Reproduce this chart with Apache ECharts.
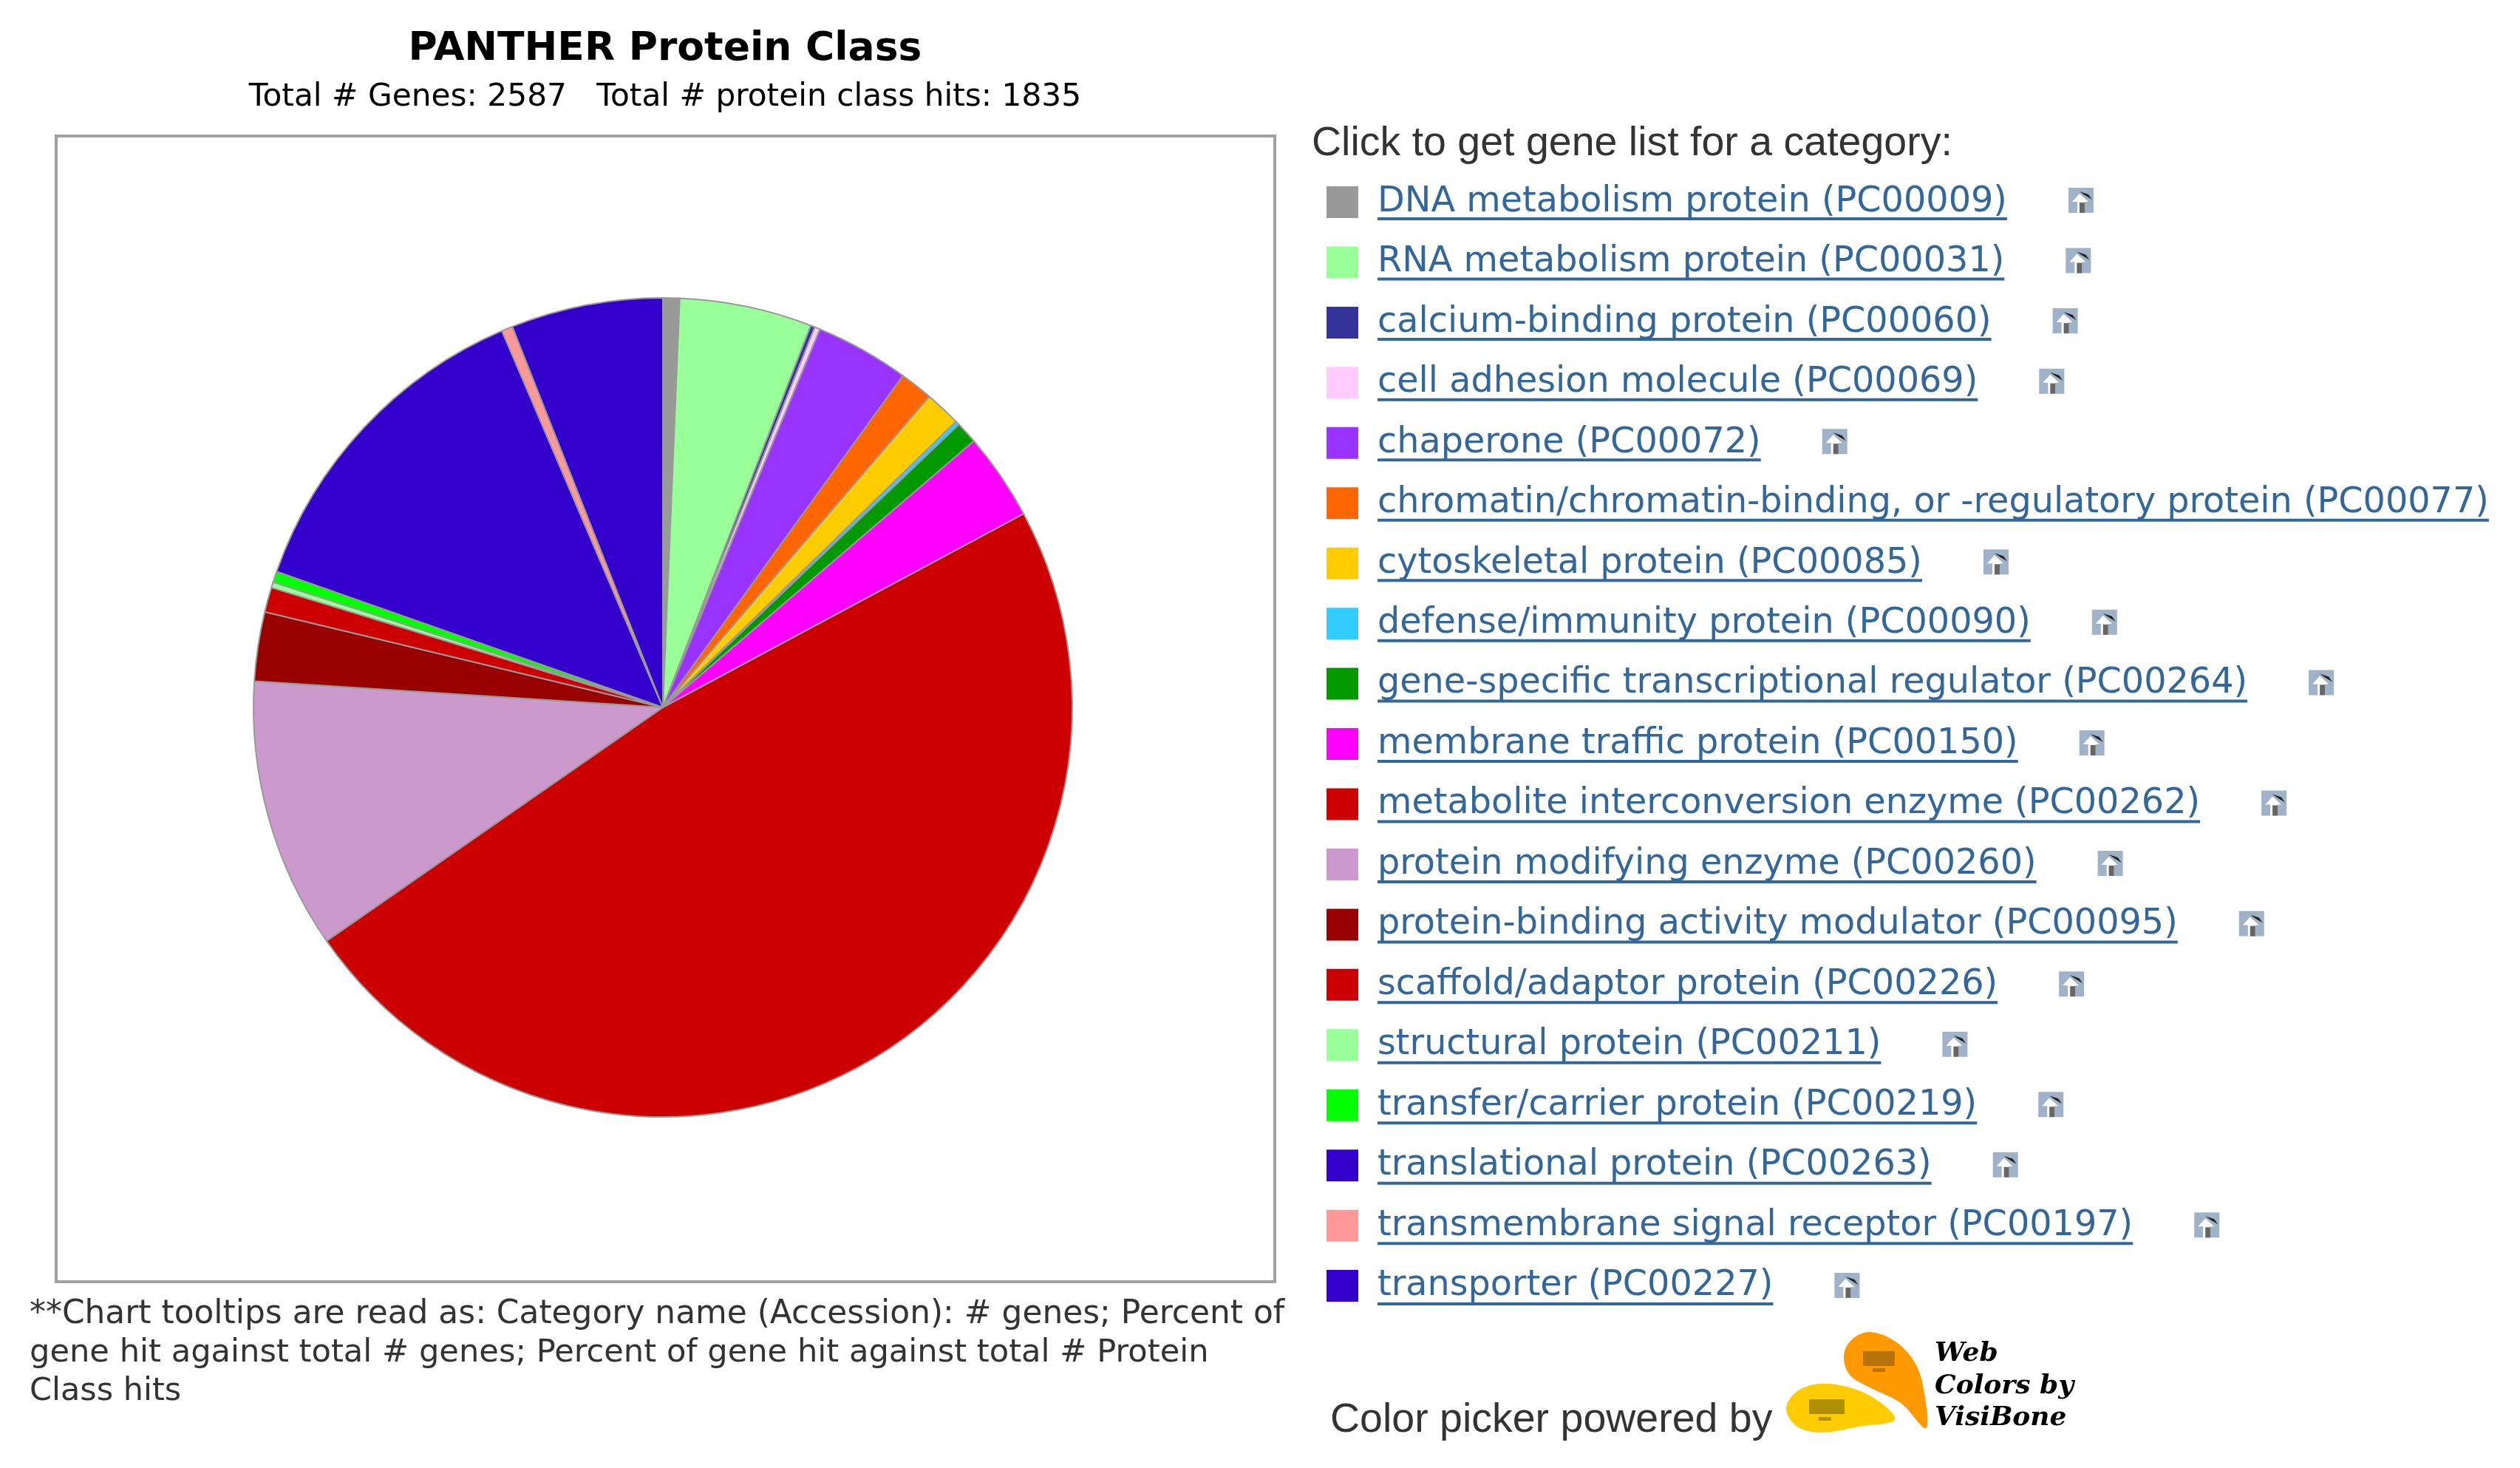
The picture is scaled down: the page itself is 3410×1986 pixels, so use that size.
<!DOCTYPE html>
<html>
<head>
<meta charset="utf-8">
<title>PANTHER Protein Class</title>
<style>
  html, body { margin: 0; padding: 0; background: #fff; }
  #main { width: 3410px; height: 1986px; }
</style>
<script src="https://cdn.jsdelivr.net/npm/echarts@6/dist/echarts.min.js"></script>
</head>
<body>
<div id="main"></div>
<script>
  var categories = [
    'DNA metabolism protein (PC00009)',
    'RNA metabolism protein (PC00031)',
    'calcium-binding protein (PC00060)',
    'cell adhesion molecule (PC00069)',
    'chaperone (PC00072)',
    'chromatin/chromatin-binding, or -regulatory protein (PC00077)',
    'cytoskeletal protein (PC00085)',
    'defense/immunity protein (PC00090)',
    'gene-specific transcriptional regulator (PC00264)',
    'membrane traffic protein (PC00150)',
    'metabolite interconversion enzyme (PC00262)',
    'protein modifying enzyme (PC00260)',
    'protein-binding activity modulator (PC00095)',
    'scaffold/adaptor protein (PC00226)',
    'structural protein (PC00211)',
    'transfer/carrier protein (PC00219)',
    'translational protein (PC00263)',
    'transmembrane signal receptor (PC00197)',
    'transporter (PC00227)'
  ]
  var geneCounts = [12, 96, 3, 4, 68, 24, 26, 3, 16, 63, 884, 196, 50, 18, 4, 8, 242, 8, 110]
  var sliceColors = ['#999999', '#99ff99', '#333399', '#ffccff', '#9933ff', '#ff6600', '#ffcc00', '#33ccff', '#009900',
    '#ff00ff', '#cc0000', '#cc99cc', '#990000', '#cc0000', '#99ff99', '#00ff00', '#3300cc', '#ff9999', '#3300cc']
  var footnoteLines = [
    '**Chart tooltips are read as: Category name (Accession): # genes; Percent of',
    'gene hit against total # genes; Percent of gene hit against total # Protein',
    'Class hits'
  ]
  var footnoteSizes = [43.9, 43.2, 43]
  var logoLines = ['Web', 'Colors by', 'VisiBone']

  var legendFont = '47.7px "DejaVu Sans"'
  var rowTop = 250
  var rowStep = 81.55
  var textX = 1864

  // the legend draws swatch and label, underline and link icon are added by hand
  var ctx = document.createElement('canvas').getContext('2d')
  ctx.font = legendFont

  var graphics = [
    { type: 'rect', shape: { x: 76, y: 184, width: 1649, height: 1550 }, style: { fill: 'none', stroke: '#a0a0a0', lineWidth: 4 }, z: -1 },
    { type: 'text', style: { text: 'Click to get gene list for a category:', x: 1775, y: 195, font: '55.5px "Liberation Sans"', fill: '#333', textVerticalAlign: 'middle' } },
    { type: 'text', style: { text: 'Color picker powered by', x: 1800, y: 1922, font: '55.5px "Liberation Sans"', fill: '#333', textVerticalAlign: 'middle' } },
    // VisiBone logo
    { type: 'polygon', shape: { smooth: 0.35, points: [[2606, 1932], [2572, 1898], [2530, 1877], [2503, 1860], [2495, 1835], [2505, 1813], [2530, 1802], [2565, 1815], [2592, 1845], [2604, 1885]] }, style: { fill: '#ff9900' } },
    { type: 'polygon', shape: { smooth: 0.35, points: [[2564, 1920], [2530, 1888], [2475, 1872], [2435, 1880], [2417, 1905], [2432, 1930], [2465, 1938], [2515, 1930]] }, style: { fill: '#ffcc00' } },
    { type: 'rect', shape: { x: 2521, y: 1828, width: 43, height: 20 }, style: { fill: '#b8720a' } },
    { type: 'rect', shape: { x: 2534, y: 1851, width: 17, height: 5 }, style: { fill: '#b8720a' } },
    { type: 'rect', shape: { x: 2448, y: 1893, width: 48, height: 20 }, style: { fill: '#b09000' } },
    { type: 'rect', shape: { x: 2461, y: 1917, width: 17, height: 5 }, style: { fill: '#b09000' } }
  ]

  footnoteLines.forEach(function(line, i) {
    graphics.push({ type: 'text', style: { text: line, x: 40, y: 1779 + i * 52, font: footnoteSizes[i] + 'px "DejaVu Sans"', fill: '#333', textVerticalAlign: 'middle' } })
  })
  logoLines.forEach(function(line, i) {
    graphics.push({ type: 'text', style: { text: line, x: 2618, y: 1832 + i * 43.5, font: 'italic bold 36px "DejaVu Serif"', fill: '#000', textVerticalAlign: 'middle' } })
  })
  categories.forEach(function(name, i) {
    var w = ctx.measureText(name).width
    var y = rowTop + i * rowStep
    graphics.push({ type: 'rect', shape: { x: textX, y: y + 44, width: w, height: 4 }, style: { fill: '#336699' } })
    // little link icon after the label
    var ix = textX + w + 83
    graphics.push({ type: 'rect', shape: { x: ix, y: y + 4, width: 34, height: 34 }, style: { fill: '#9fb2c8' } })
    graphics.push({ type: 'polygon', shape: { points: [[ix + 15, y + 9], [ix + 27, y + 13], [ix + 32, y + 20], [ix + 22, y + 14]] }, style: { fill: '#222' } })
    graphics.push({ type: 'polygon', shape: { points: [[ix + 15, y + 12], [ix + 27, y + 23], [ix + 22, y + 23], [ix + 22, y + 38], [ix + 12, y + 38], [ix + 12, y + 23], [ix + 5, y + 23]] }, style: { fill: '#fff' } })
    graphics.push({ type: 'rect', shape: { x: ix + 15, y: y + 24, width: 7, height: 14 }, style: { fill: '#666' } })
  })

  var chart = echarts.init(document.getElementById('main'))
  chart.setOption({
    animation: false,
    title: {
      text: 'PANTHER Protein Class',
      subtext: 'Total # Genes: 2587   Total # protein class hits: 1835',
      left: 895,
      top: 35,
      textAlign: 'center',
      itemGap: 16,
      textStyle: { fontFamily: 'DejaVu Sans', fontWeight: 'bold', fontSize: 53.5, color: '#000', lineHeight: 54 },
      subtextStyle: { fontFamily: 'DejaVu Sans', fontSize: 42.3, color: '#000', lineHeight: 44 }
    },
    legend: {
      orient: 'vertical',
      left: 1795,
      top: rowTop - 4,
      padding: 0,
      icon: 'rect',
      itemWidth: 43,
      itemHeight: 43,
      itemGap: rowStep - 55.1,
      selectedMode: false,
      itemStyle: { borderWidth: 0 },
      data: categories,
      textStyle: {
        fontFamily: 'DejaVu Sans',
        fontSize: 47.7,
        color: '#336699',
        lineHeight: 43,
        padding: [12, 0, 0, 21]
      }
    },
    series: [{
      type: 'pie',
      center: [897, 957],
      radius: 554,
      startAngle: 90,
      label: { show: false },
      labelLine: { show: false },
      itemStyle: { borderColor: '#999', borderWidth: 2 },
      emphasis: { disabled: true },
      data: categories.map(function(name, i) {
        return { name: name, value: geneCounts[i], itemStyle: { color: sliceColors[i] } }
      })
    }],
    graphic: graphics
  })
</script>
</body>
</html>
